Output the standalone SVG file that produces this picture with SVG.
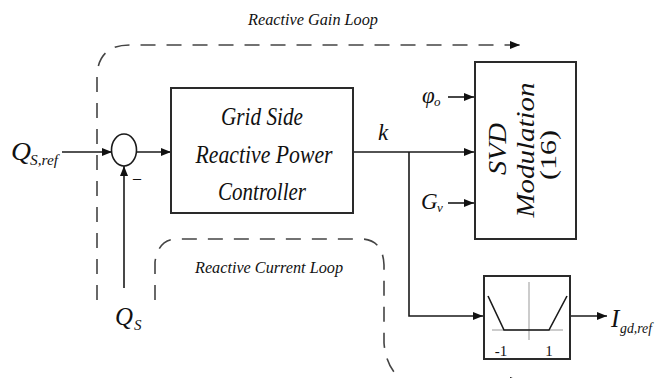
<svg xmlns="http://www.w3.org/2000/svg" width="659" height="378" viewBox="0 0 659 378">
<style>
.t{font-family:"Liberation Serif","Times New Roman",serif;font-style:italic;fill:#111}
.u{font-family:"Liberation Serif","Times New Roman",serif;fill:#111}
.ln{fill:none;stroke:#1a1a1a;stroke-width:1.6}
.bx{fill:#fff;stroke:#2a2a2a;stroke-width:2}
.ds{fill:none;stroke:#444;stroke-width:1.6;stroke-dasharray:15 11}
.thin{fill:none;stroke:#999;stroke-width:1}
</style>
<defs>
<marker id="ah" markerWidth="10" markerHeight="8" refX="10" refY="4" orient="auto" markerUnits="userSpaceOnUse">
<path d="M0,0 L10,4 L0,8 Z" fill="#111"/>
</marker>
</defs>
<g id="loops">
<path class="ds" d="M97,300 L97,78 Q97,45 130,45 L520,45" marker-end="url(#ah)"/>
<text class="t" x="248" y="25" font-size="17" textLength="130" lengthAdjust="spacingAndGlyphs">Reactive Gain Loop</text>
<path class="ds" d="M155,300 L155,262 Q158,240 176,239 L362,239 Q383,240 384,265 L384,343 Q386,368 402,380 L520,381" marker-end="url(#ah)"/>
<text class="t" x="195" y="273" font-size="17" textLength="148" lengthAdjust="spacingAndGlyphs">Reactive Current Loop</text>
</g>
<g id="connectors">
<path class="ln" d="M62,152 L112,152" marker-end="url(#ah)"/>
<path class="ln" d="M137,152 L171,152" marker-end="url(#ah)"/>
<path class="ln" d="M124,288 L124,166" marker-end="url(#ah)"/>
<path class="ln" d="M353,152 L474,152" marker-end="url(#ah)"/>
<path class="ln" d="M409,152 L409,316 L483,316" marker-end="url(#ah)"/>
<path class="ln" d="M448,97 L474,97" marker-end="url(#ah)"/>
<path class="ln" d="M448,203 L474,203" marker-end="url(#ah)"/>
<path class="ln" d="M570,316 L607,316" marker-end="url(#ah)"/>
</g>
<g id="sum">
<ellipse cx="124" cy="150" rx="12.5" ry="16" fill="#fff" stroke="#1a1a1a" stroke-width="1.6"/>
<text class="u" x="133" y="183" font-size="16">–</text>
</g>
<g id="labels">
<text class="t" x="11" y="160" font-size="25" textLength="20" lengthAdjust="spacingAndGlyphs">Q</text>
<text class="t" x="30" y="165" font-size="15" textLength="28" lengthAdjust="spacingAndGlyphs">S,ref</text>
<text class="t" x="115" y="325" font-size="25" textLength="18" lengthAdjust="spacingAndGlyphs">Q</text>
<text class="t" x="134" y="330" font-size="15">S</text>
<text class="t" x="378" y="140" font-size="23">k</text>
<text class="t" x="422" y="103" font-size="23">φ</text>
<text class="t" x="434" y="106" font-size="13">o</text>
<text class="t" x="421" y="209" font-size="23">G</text>
<text class="t" x="437" y="212" font-size="13">v</text>
<text class="t" x="611" y="327" font-size="25">I</text>
<text class="t" x="620" y="333" font-size="15" textLength="32" lengthAdjust="spacingAndGlyphs">gd,ref</text>
</g>
<g id="controller">
<rect class="bx" x="171" y="88" width="182" height="125"/>
<text class="t" x="262" y="125" font-size="26" text-anchor="middle" textLength="82" lengthAdjust="spacingAndGlyphs">Grid Side</text>
<text class="t" x="264" y="163" font-size="26" text-anchor="middle" textLength="137" lengthAdjust="spacingAndGlyphs">Reactive Power</text>
<text class="t" x="262" y="200" font-size="26" text-anchor="middle" textLength="88" lengthAdjust="spacingAndGlyphs">Controller</text>
</g>
<g id="svd">
<rect class="bx" x="475" y="62" width="101" height="177"/>
<text class="t" transform="translate(506,149) rotate(-90)" font-size="26" text-anchor="middle" textLength="52" lengthAdjust="spacingAndGlyphs">SVD</text>
<text class="t" transform="translate(534,150) rotate(-90)" font-size="26" text-anchor="middle" textLength="135" lengthAdjust="spacingAndGlyphs">Modulation</text>
<text class="u" transform="translate(556,155) rotate(-90)" font-size="24" text-anchor="middle" textLength="50" lengthAdjust="spacingAndGlyphs">(16)</text>
</g>
<g id="saturation">
<rect class="bx" x="484" y="276" width="86" height="83"/>
<path class="thin" d="M529,282 L529,340 M492,330 L563,330"/>
<path class="ln" stroke-width="2" d="M488,296 L504,330 L549,330 L567,296"/>
<text class="u" x="501" y="356" font-size="15" text-anchor="middle">-1</text>
<text class="u" x="549" y="356" font-size="15" text-anchor="middle">1</text>
</g>
</svg>
